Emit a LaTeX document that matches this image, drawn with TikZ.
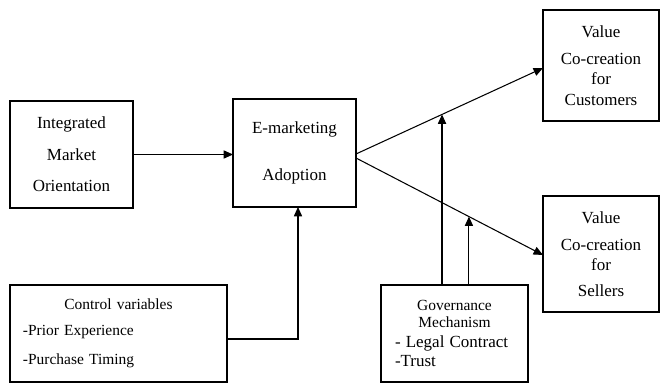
\documentclass[tikz,border=0pt]{standalone}
\usepackage{fontspec}
\setmainfont{Liberation Serif}
\usetikzlibrary{arrows.meta,positioning}

\begin{document}
\begin{tikzpicture}[
  box/.style={draw, line width=0.9pt, inner sep=0pt, outer sep=0pt,
    align=center, font=\fontsize{14.5}{17}\selectfont},
  small/.style={font=\fontsize{13.2}{15}\selectfont},
  link/.style={->, line width=0.9pt},
  >={Triangle[length=8pt,width=7pt]}
]
  \useasboundingbox (0,0) rectangle (19.8,11.49);
  \node[box, minimum width=3.69cm, minimum height=3.21cm,
    font=\fontsize{14.5}{27}\selectfont] (imo) at (2.145,6.855)
    {Integrated\\Market\\Orientation};
  \node[box, minimum width=3.69cm, minimum height=3.24cm,
    font=\fontsize{14.5}{40}\selectfont] (ema) at (8.835,6.9)
    {E-marketing\\Adoption};
  \node[box, minimum width=3.48cm, minimum height=3.33cm] (cust) at (18.03,9.525)
    {Value\\[6pt]Co-creation\\for\\[1pt]Customers};
  \node[box, minimum width=3.48cm, minimum height=3.48cm] (sell) at (18.03,3.87)
    {Value\\[6pt]Co-creation\\for\\[5pt]Sellers};
  \node[box, small, minimum width=6.51cm, minimum height=2.91cm,
    text width=5.73cm, align=left] (ctrl) at (3.555,1.485)
    {\makebox[\linewidth]{Control variables}\\[7pt]
     -Prior Experience\\[10pt]
     -Purchase Timing};
  \node[box, small, minimum width=4.41cm, minimum height=2.91cm,
    text width=3.57cm, align=left] (gov) at (13.635,1.485)
    {\makebox[\linewidth]{Governance}\\
     \makebox[\linewidth]{Mechanism}\\[2pt]
     {\fontsize{14.5}{15}\selectfont - Legal Contract}\\[1pt]
     {\fontsize{14.5}{15}\selectfont -Trust}};

  \draw[link] (imo.east) -- (imo.east -| ema.west);
  \draw[link] ([yshift=-0.165cm]ctrl.east) -| ([xshift=0.105cm]ema.south);
  \draw[link] ([yshift=-0.03cm]ema.east)
    -- ([yshift=-0.075cm]cust.west) coordinate[pos=0.46] (m1);
  \draw[link] ([yshift=-0.15cm]ema.east)
    -- ([yshift=-0.03cm]sell.west) coordinate[pos=0.604] (m2);
  \draw[link] (gov.north -| m1) -- (m1);
  \draw[link] (gov.north -| m2) -- (m2);
\end{tikzpicture}
\end{document}
